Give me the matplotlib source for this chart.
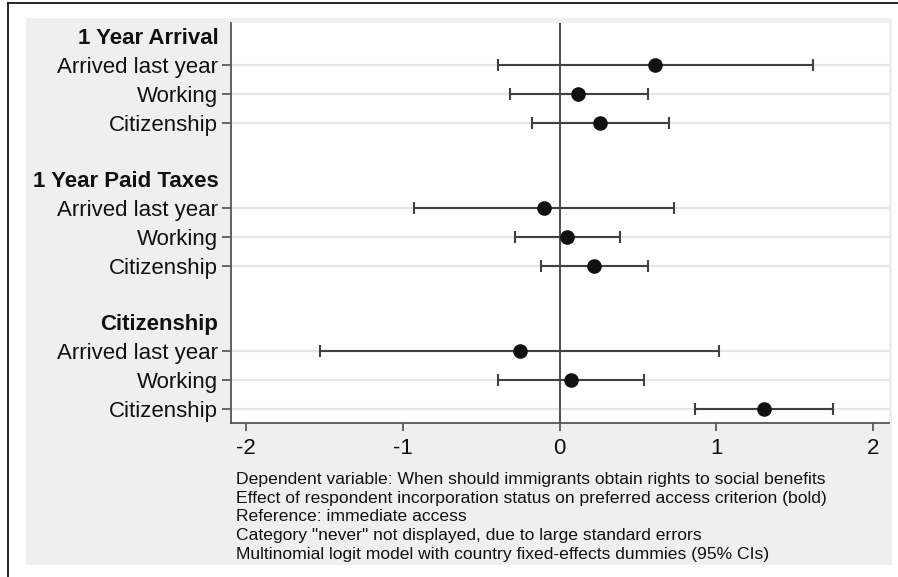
import matplotlib
matplotlib.use("Agg")
import matplotlib.pyplot as plt
from matplotlib.patches import Rectangle
from matplotlib.lines import Line2D
import matplotlib.transforms as mtransforms

plt.rcParams['font.family'] = ['Liberation Sans', 'DejaVu Sans']

groups = ["1 Year Arrival", "1 Year Paid Taxes", "Citizenship"]
items = ["Arrived last year", "Working", "Citizenship"]
estimates = [[0.61, 0.12, 0.26],
             [-0.10, 0.045, 0.22],
             [-0.255, 0.07, 1.30]]
ci_low = [[-0.39, -0.317, -0.176],
          [-0.93, -0.285, -0.117],
          [-1.53, -0.393, 0.864]]
ci_high = [[1.615, 0.563, 0.699],
           [0.728, 0.382, 0.563],
           [1.019, 0.535, 1.745]]
x_ticks = [-2, -1, 0, 1, 2]
notes = ["Dependent variable: When should immigrants obtain rights to social benefits",
         "Effect of respondent incorporation status on preferred access criterion (bold)",
         "Reference: immediate access",
         "Category \"never\" not displayed, due to large standard errors",
         "Multinomial logit model with country fixed-effects dummies (95% CIs)"]

W, H = 898, 577
fig = plt.figure(figsize=(W / 100, H / 100), dpi=100)
fig.patch.set_facecolor('white')

# grey panel
fig.patches.append(Rectangle((26 / W, 1 - 565 / H), (892 - 26) / W, (565 - 18) / H,
                             transform=fig.transFigure, facecolor='#efefef',
                             edgecolor='none', zorder=-5))
# outer frame lines (top and left)
fig.lines.append(Line2D([8 / W, 1], [1 - 3 / H, 1 - 3 / H], transform=fig.transFigure,
                        color='black', lw=1.2, zorder=-4))
fig.lines.append(Line2D([8 / W, 8 / W], [0, 1 - 3 / H], transform=fig.transFigure,
                        color='black', lw=1.2, zorder=-4))

ax = fig.add_axes([231.5 / W, 1 - 423 / H, (889 - 231.5) / W, (423 - 22.5) / H])
ax.set_zorder(2)
ax.set_facecolor('white')

ycol = '#404040'
tick_pos, tick_lab = [], []
header_pos = []
pos = 0
for g, grp in enumerate(groups):
    header_pos.append((pos, grp))
    pos += 1
    for i, it in enumerate(items):
        tick_pos.append(pos)
        tick_lab.append(it)
        ax.axhline(pos, color='#e6e6e6', lw=1.6, zorder=1)
        est = estimates[g][i]
        lo, hi = ci_low[g][i], ci_high[g][i]
        ax.errorbar([est], [pos], xerr=[[est - lo], [hi - est]], fmt='none',
                    ecolor=ycol, elinewidth=1.5, capsize=4.6, capthick=1.5, zorder=3)
        ax.plot([est], [pos], 'o', color='#111111', ms=9.5, zorder=4)
        pos += 1
    pos += 1

ax.axvline(0, color=ycol, lw=1.3, zorder=2)

ax.set_xlim(-2.092, 2.10)
ax.set_ylim(13.5, -0.5)
ax.set_xticks(x_ticks)
ax.set_xticklabels([str(t) if t >= 0 else '-' + str(-t) for t in x_ticks])
ax.set_yticks(tick_pos)
ax.set_yticklabels(tick_lab)
ax.tick_params(axis='y', length=6.5, width=1.1, color=ycol, pad=3, labelsize=16,
               labelcolor='#111111')
ax.tick_params(axis='x', length=5.5, width=1.1, color=ycol, pad=5, labelsize=16,
               labelcolor='#111111')
for s in ['top', 'right']:
    ax.spines[s].set_visible(False)
for s in ['left', 'bottom']:
    ax.spines[s].set_color('#555555')
    ax.spines[s].set_linewidth(1.3)

trans = mtransforms.blended_transform_factory(ax.transAxes, ax.transData)
trans = trans + mtransforms.ScaledTranslation(-9.5 / 72, 0, fig.dpi_scale_trans)
for p, name in header_pos:
    ax.text(0, p + 0.06, name, transform=trans, ha='right', va='center', fontsize=16,
            fontweight='bold', color='#111111')

fig.text(236 / W, 1 - 472 / H, "\n".join(notes), ha='left', va='top', fontsize=12.6,
         linespacing=1.31, color='#111111')

fig.savefig('out.png', dpi=100)
